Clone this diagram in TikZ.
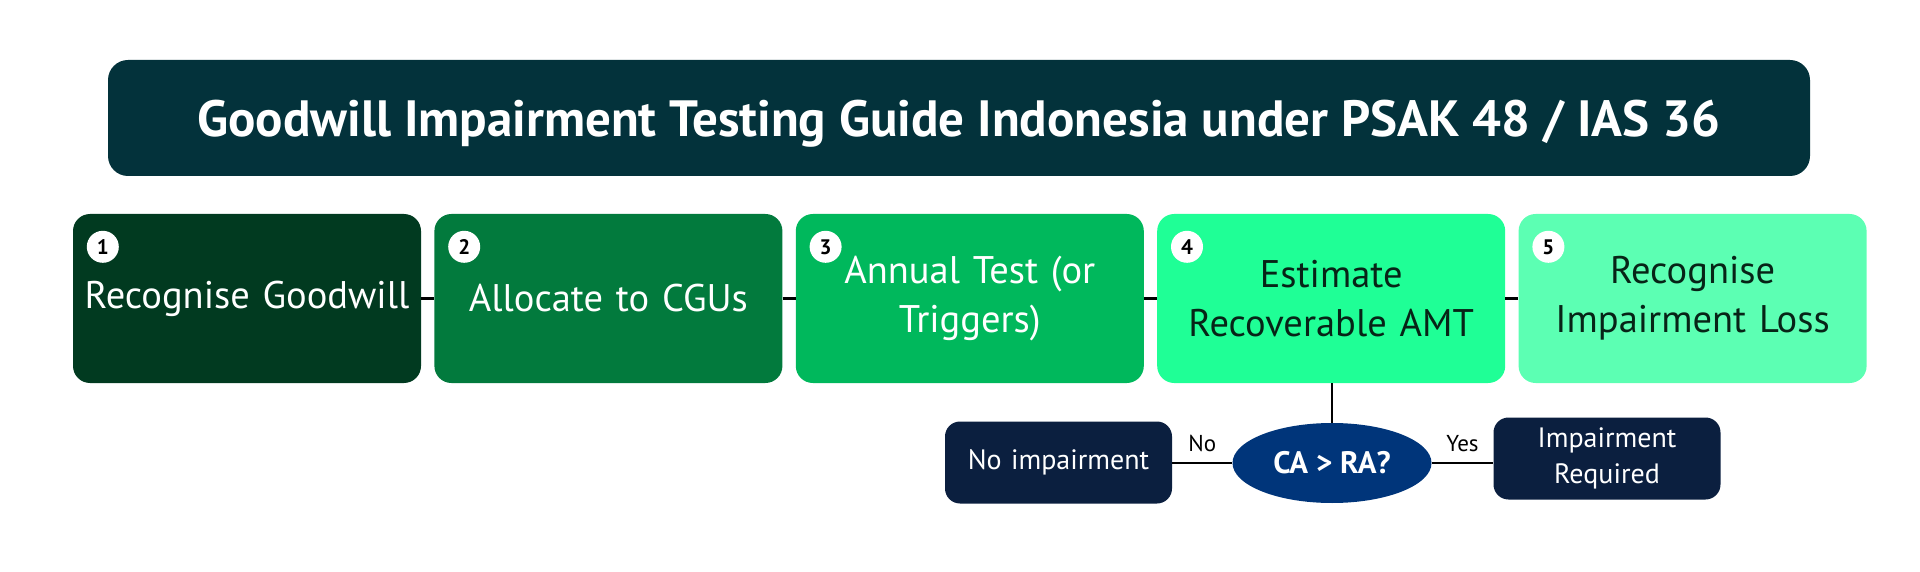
\documentclass[tikz,border=0pt]{standalone}
\usepackage{fontspec}
\setmainfont{PT Sans}
\usetikzlibrary{positioning,shapes.geometric}
\definecolor{titleteal}{HTML}{03323B}
\definecolor{stageA}{HTML}{013A20}
\definecolor{stageB}{HTML}{027A3D}
\definecolor{stageC}{HTML}{00B85C}
\definecolor{stageD}{HTML}{1FFF96}
\definecolor{stageE}{HTML}{5CFFB3}
\definecolor{decblue}{HTML}{00357A}
\definecolor{navybox}{HTML}{0B1F3F}
\definecolor{darkink}{HTML}{072417}
\tikzset{link/.style={line width=2.4pt, black}}

\begin{document}
\begin{tikzpicture}[x=1pt, y=-1pt,
  stagebox/.style={rounded corners=17pt, text width=336pt, inner sep=6pt,
    minimum height=169pt, align=center, font=\fontsize{38.5}{49}\selectfont},
  numdot/.style={circle, fill=white, inner sep=0pt, minimum size=32pt,
    font=\bfseries\fontsize{21}{21}\selectfont},
  outbox/.style={rounded corners=15pt, fill=navybox, text=white, text width=215pt,
    inner sep=6pt, minimum height=82pt, align=center, font=\fontsize{28}{36}\selectfont}]

  \useasboundingbox (0,0) rectangle (1920,572);

  %% title bar
  \node[fill=titleteal, rounded corners=20pt, minimum width=1702pt, minimum height=116pt,
    text depth=0pt, text=white, font=\bfseries\fontsize{51}{51}\selectfont] (title) at (959,118)
    {Goodwill Impairment Testing Guide Indonesia under PSAK 48 / IAS 36};

  %% the five stages
  \node[stagebox, fill=stageA, text=white] (s1) at (247,298.5) {Recognise Goodwill};
  \node[stagebox, fill=stageB, text=white, right=13pt of s1] (s2) {Allocate to CGUs};
  \node[stagebox, fill=stageC, text=white, right=13pt of s2] (s3) {Annual Test (or\\Triggers)};
  \node[stagebox, fill=stageD, text=darkink, right=13pt of s3] (s4) {Estimate\\Recoverable AMT};
  \node[stagebox, fill=stageE, text=darkink, right=13pt of s4] (s5) {Recognise\\Impairment Loss};

  \foreach \i in {1,...,5}
    \node[numdot] (n\i) at ([xshift=30pt, yshift=-33pt]s\i.north west) {\i};

  \draw[link] (s1) -- (s2); % 1-2
  \draw[link] (s2) -- (s3); % 2-3
  \draw[link] (s3) -- (s4); % 3-4
  \draw[link] (s4) -- (s5); % 4-5

  %% test
  \node[ellipse, fill=decblue, text=white, minimum width=199pt, minimum height=80pt,
    inner sep=0pt, font=\bfseries\fontsize{31}{31}\selectfont] (test) at (1332,463) {CA > RA?};
  \node[outbox] (noimp) at (1058.5,462.5) {No impairment};
  \node[outbox] (imp) at (1607,458.5) {Impairment\\Required};

  \draw[link] (s4.south -| test.north) -- (test.north);
  \draw[link] (noimp.east |- test) -- node[above=7pt, font=\fontsize{23}{23}\selectfont]{No} (test.west);
  \draw[link] (test.east) -- node[above=7pt, font=\fontsize{23}{23}\selectfont]{Yes} (imp.west |- test);

\end{tikzpicture}
\end{document}
